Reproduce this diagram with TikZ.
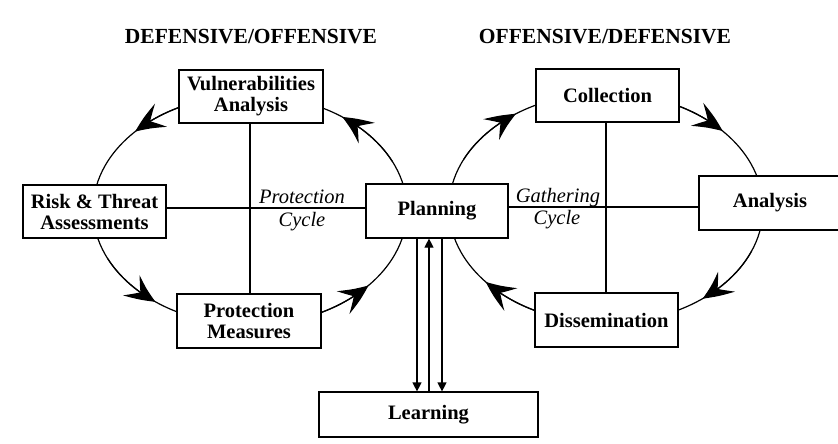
\documentclass[tikz,border=0pt]{standalone}
\usepackage{fontspec}
\setmainfont{Liberation Serif}
\usetikzlibrary{arrows.meta,bending}
\begin{document}
\begin{tikzpicture}[x=1pt,y=-1pt,
  line width=1.2pt,
  box/.style={draw, line width=1.2pt, fill=white, inner sep=0pt, align=center,
    font=\fontsize{20.5}{21}\selectfont\bfseries},
  title/.style={font=\fontsize{21.5}{22}\selectfont\bfseries, anchor=base},
  cyclabel/.style={font=\fontsize{20.5}{21}\selectfont\itshape, anchor=base},
  cycarrow/.style={-{Stealth[length=30pt,width=26pt,inset=12pt,bend]}},
  linkarrow/.style={-{Triangle[length=9pt,width=9pt]}},
  ell/.style={x radius=157, y radius=115}]
\useasboundingbox (0,0) rectangle (838,444);
\fill[white] (0,0) rectangle (838,444);

% titles
\node[title] (t1) at (251,44) {DEFENSIVE/OFFENSIVE};
\node[title] (t2) at (605,44) {OFFENSIVE/DEFENSIVE};

% cycles (ellipses)
\coordinate (lc) at (250,210);
\coordinate (rc) at (606,208);
\draw (lc) ellipse [ell];
\draw (rc) ellipse [ell];

% left cycle arrowheads (counterclockwise on screen)
\draw[cycarrow] (lc) ++(-108:157 and 115) arc[start angle=-108, end angle=-137, ell];
\draw[cycarrow] (lc) ++(-25:157 and 115) arc[start angle=-25, end angle=-54, ell];
\draw[cycarrow] (lc) ++(155:157 and 115) arc[start angle=155, end angle=127, ell];
\draw[cycarrow] (lc) ++(70:157 and 115) arc[start angle=70, end angle=41, ell];

% right cycle arrowheads (clockwise on screen)
\draw[cycarrow] (rc) ++(-155:157 and 115) arc[start angle=-155, end angle=-125, ell];
\draw[cycarrow] (rc) ++(-72:157 and 115) arc[start angle=-72, end angle=-42, ell];
\draw[cycarrow] (rc) ++(22:157 and 115) arc[start angle=22, end angle=52, ell];
\draw[cycarrow] (rc) ++(110:157 and 115) arc[start angle=110, end angle=140, ell];

% boxes
\node[box, minimum width=144pt, minimum height=53pt] (vuln) at (251,96.5) {Vulnerabilities\\Analysis};
\node[box, minimum width=143pt, minimum height=53pt] (risk) at (94.5,211.5) {Risk \& Threat\\Assessments};
\node[box, minimum width=144pt, minimum height=54pt] (pm) at (249,321) {Protection\\Measures};
\node[box, minimum width=142pt, minimum height=54pt] (plan) at (437,211) {Planning};
\node[box, minimum width=143pt, minimum height=53pt] (coll) at (607.5,95.5) {Collection};
\node[box, minimum width=142pt, minimum height=54pt] (anal) at (770,203) {Analysis};
\node[box, minimum width=143pt, minimum height=54pt] (diss) at (606.5,320) {Dissemination};
\node[box, minimum width=219pt, minimum height=45pt] (learn) at (428.5,414.5) {Learning};

% cross lines
\draw (risk.east |- 0,208) -- (plan.west |- 0,208);
\draw (vuln.south -| 250,0) -- (pm.north -| 250,0);
\draw (plan.east |- 0,207) -- (anal.west |- 0,207);
\draw (coll.south -| 606,0) -- (diss.north -| 606,0);

% cycle labels
\node[cyclabel] (pc1) at (302,203) {Protection};
\node[cyclabel] (pc2) at (302,226) {Cycle};
\node[cyclabel] (gc1) at (558,202) {Gathering};
\node[cyclabel] (gc2) at (557,224) {Cycle};

% planning <-> learning
\draw[linkarrow] (plan.south -| 417,0) -- (learn.north -| 417,0);
\draw[linkarrow] (learn.north -| 429,0) -- (plan.south -| 429,0);
\draw[linkarrow] (plan.south -| 442,0) -- (learn.north -| 442,0);
\end{tikzpicture}
\end{document}
